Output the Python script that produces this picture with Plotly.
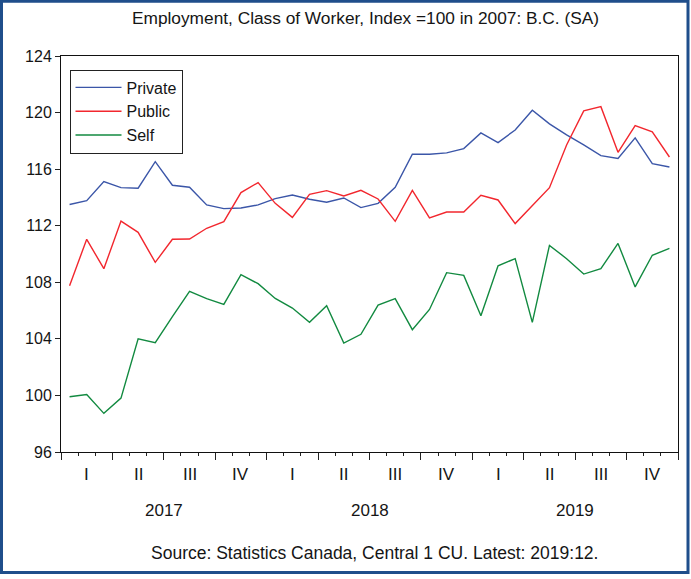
import plotly.graph_objects as go

# ---- data (monthly, Jan 2017 .. Dec 2019) ----
private = [113.5, 113.77, 115.12, 114.69, 114.65, 116.53, 114.86, 114.72, 113.47, 113.21, 113.25, 113.47,
           113.92, 114.17, 113.87, 113.66, 113.96, 113.28, 113.58, 114.72, 117.05, 117.05, 117.15, 117.45,
           118.56, 117.88, 118.77, 120.17, 119.2, 118.42, 117.71, 116.96, 116.75, 118.21, 116.39, 116.15]
public = [107.76, 111.04, 108.96, 112.33, 111.53, 109.41, 111.04, 111.06, 111.82, 112.29, 114.34, 115.05,
          113.58, 112.59, 114.22, 114.48, 114.10, 114.50, 113.89, 112.31, 114.50, 112.55, 112.97, 112.97,
          114.15, 113.82, 112.15, 113.42, 114.69, 117.71, 120.12, 120.42, 117.19, 119.08, 118.63, 116.86]
self_emp = [99.91, 100.07, 98.73, 99.81, 104.01, 103.73, 105.57, 107.36, 106.84, 106.44, 108.54, 107.90,
            106.86, 106.18, 105.17, 106.34, 103.70, 104.32, 106.39, 106.84, 104.65, 106.08, 108.68, 108.49,
            105.64, 109.17, 109.67, 105.17, 110.61, 109.67, 108.58, 108.96, 110.75, 107.67, 109.91, 110.40]
quarter_labels = ["I", "II", "III", "IV"] * 3
years = ["2017", "2018", "2019"]
y_ticks = [96, 100, 104, 108, 112, 116, 120, 124]

months = [i + 0.5 for i in range(len(private))]  # month centres on a 0..36 axis

W, H = 691, 579
ML, MR, MT, MB = 61, 13, 56, 127
PW, PH = W - ML - MR, H - MT - MB

def px(x):
    return (x - ML) / PW

def py(y):
    return (H - MB - y) / PH

FONT = "Liberation Sans, Arial, sans-serif"
TXT = "#151515"

fig = go.Figure()
fig.add_trace(go.Scatter(x=months, y=private, name="Private", mode="lines",
                         line=dict(color="#3b56a8", width=1.4)))
fig.add_trace(go.Scatter(x=months, y=public, name="Public", mode="lines",
                         line=dict(color="#f2272e", width=1.4)))
fig.add_trace(go.Scatter(x=months, y=self_emp, name="Self", mode="lines",
                         line=dict(color="#128a40", width=1.4)))

annotations = []
for k, q in enumerate(quarter_labels):
    annotations.append(dict(x=3 * k + 1.5, y=py(474), xref="x", yref="paper", text=q,
                            showarrow=False, font=dict(size=17, color=TXT), yanchor="middle"))
for k, yr in enumerate(years):
    annotations.append(dict(x=12 * k + 6, y=py(510), xref="x", yref="paper", text=yr,
                            showarrow=False, font=dict(size=17, color=TXT), yanchor="middle"))
annotations.append(dict(x=px(374), y=py(553), xref="paper", yref="paper",
                        text="Source: Statistics Canada, Central 1 CU. Latest: 2019:12.",
                        showarrow=False, font=dict(size=17.5, color=TXT), yanchor="middle"))
annotations.append(dict(x=px(365), y=py(18), xref="paper", yref="paper",
                        text="Employment, Class of Worker, Index =100 in 2007: B.C. (SA)",
                        showarrow=False, font=dict(size=17.3, color=TXT), yanchor="middle"))

shapes = [dict(type="rect", xref="paper", yref="paper",
               x0=px(1.5), x1=px(688), y0=py(1.2), y1=py(572.5),
               line=dict(color="#1f4e8b", width=3), fillcolor="rgba(0,0,0,0)", layer="below")]

fig.update_layout(
    width=W, height=H,
    margin=dict(l=ML, r=MR, t=MT, b=MB),
    paper_bgcolor="white", plot_bgcolor="white",
    font=dict(family=FONT, size=16, color=TXT),
    showlegend=True,
    legend=dict(x=px(69.5), y=py(69.5), xanchor="left", yanchor="top",
                bgcolor="white", bordercolor="#222", borderwidth=1,
                itemwidth=46, tracegroupgap=0,
                font=dict(size=16, color=TXT)),
    annotations=annotations,
    shapes=shapes,
    xaxis=dict(range=[0, 36], tickvals=list(range(0, 37, 3)), ticktext=[""] * 13,
               ticks="outside", ticklen=7, tickcolor="#222", tickwidth=1,
               minor=dict(dtick=1, tick0=0, ticks="outside", ticklen=3, tickcolor="#222", tickwidth=1),
               showline=True, linecolor="#111", linewidth=1, mirror=True,
               showgrid=False, zeroline=False, fixedrange=True),
    yaxis=dict(range=[96, 124], tickvals=y_ticks,
               ticks="outside", ticklen=5, tickcolor="#222", tickwidth=1,
               showline=True, linecolor="#111", linewidth=1, mirror=True,
               showgrid=False, zeroline=False, tickfont=dict(size=16, color=TXT)),
)

fig.write_html("out.html", config={"displayModeBar": False},
               post_script="document.body.style.margin='0';document.body.style.overflow='hidden';")
